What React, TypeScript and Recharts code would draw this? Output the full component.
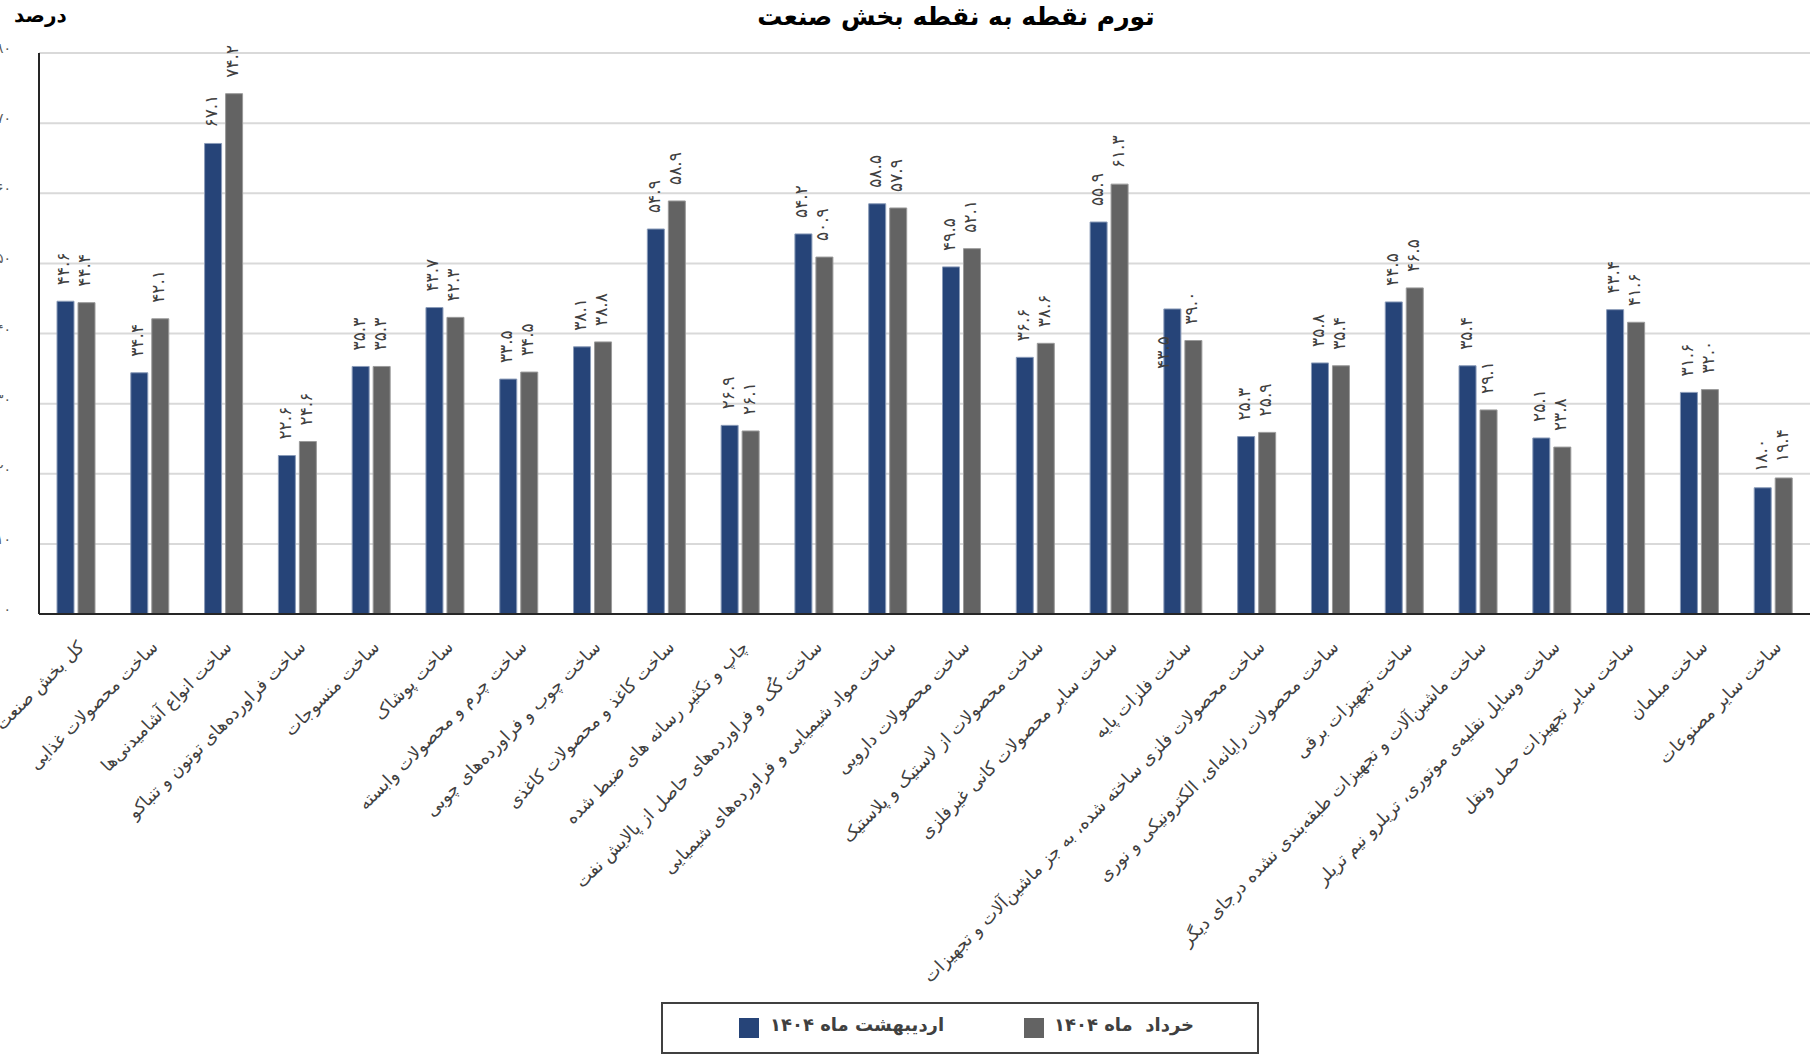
import React from 'react';
import {
  BarChart,
  Bar,
  XAxis,
  YAxis,
  CartesianGrid,
  LabelList,
  Legend,
} from 'recharts';

const categories = [
  'کل بخش صنعت',
  'ساخت محصولات غذایی',
  'ساخت انواع آشامیدنی‌ها',
  'ساخت فراورده‌های توتون و تنباکو',
  'ساخت منسوجات',
  'ساخت پوشاک',
  'ساخت چرم و محصولات وابسته',
  'ساخت چوب و فراورده‌های چوبی',
  'ساخت کاغذ و محصولات کاغذی',
  'چاپ و تکثیر رسانه های ضبط شده',
  'ساخت کُک و فراورده‌های حاصل از پالایش نفت',
  'ساخت مواد شیمیایی و فراورده‌های شیمیایی',
  'ساخت محصولات دارویی',
  'ساخت محصولات از لاستیک و پلاستیک',
  'ساخت سایر محصولات کانی غیرفلزی',
  'ساخت فلزات پایه',
  'ساخت محصولات فلزی ساخته شده، به جز ماشین‌آلات و تجهیزات',
  'ساخت محصولات رایانه‌ای، الکترونیکی و نوری',
  'ساخت تجهیزات برقی',
  'ساخت ماشین‌آلات و تجهیزات طبقه‌بندی نشده درجای دیگر',
  'ساخت وسایل نقلیه‌ی موتوری، تریلرو نیم تریلر',
  'ساخت سایر تجهیزات حمل ونقل',
  'ساخت مبلمان',
  'ساخت سایر مصنوعات',
];

// اردیبهشت ماه ۱۴۰۴
const ordibehesht = [
  44.6, 34.4, 67.1, 22.6, 35.3, 43.7, 33.5, 38.1, 54.9, 26.9, 54.2, 58.5,
  49.5, 36.6, 55.9, 43.5, 25.3, 35.8, 44.5, 35.4, 25.1, 43.4, 31.6, 18.0,
];

// خرداد ماه ۱۴۰۴
const khordad = [
  44.4, 42.1, 74.2, 24.6, 35.3, 42.3, 34.5, 38.8, 58.9, 26.1, 50.9, 57.9,
  52.1, 38.6, 61.3, 39.0, 25.9, 35.4, 46.5, 29.1, 23.8, 41.6, 32.0, 19.4,
];

const yTicks = [0, 10, 20, 30, 40, 50, 60, 70, 80];

const seriesNames = ['اردیبهشت ماه ۱۴۰۴', 'خرداد  ماه ۱۴۰۴'];

const FONT = "'DejaVu Sans', sans-serif";
const BLUE = '#264478';
const GRAY = '#636363';

const toFa = (s: string) => s.replace(/[0-9]/g, (d) => '۰۱۲۳۴۵۶۷۸۹'[Number(d)]);

const data = categories.map((name, i) => ({
  name,
  a: ordibehesht[i],
  b: khordad[i],
}));

const makeLabel = (moved?: number) => (props: any) => {
  const { x, y, width, value, index } = props;
  let cx = x + width / 2 - 2;
  let ty = y - 16;
  // this one label was dragged down onto the bar in the original
  if (moved !== undefined && index === moved) {
    cx = x + width / 2 - 9;
    ty = y + 60;
  }
  return (
    <text
      x={cx}
      y={ty}
      transform={`rotate(-90 ${cx} ${ty})`}
      textAnchor="start"
      dominantBaseline="central"
      fontSize={17}
      fontFamily={FONT}
      fill="#404040"
    >
      {toFa(Number(value).toFixed(1))}
    </text>
  );
};

const XTick = (props: any) => {
  const { x, y, payload } = props;
  return (
    <g transform={`translate(${x + 5},${y + 30})`}>
      <text
        transform="rotate(-45)"
        textAnchor="end"
        dominantBaseline="central"
        fontSize={17.5}
        fontFamily={FONT}
        fill="#404040"
      >
        {payload.value}
      </text>
    </g>
  );
};

const YTick = (props: any) => {
  const { y, payload } = props;
  return (
    <text x={11} y={y} textAnchor="end" fontSize={14} fontFamily={FONT} fill="#595959">
      {toFa(String(payload.value))}
    </text>
  );
};

const LegendBox = () => (
  <div
    style={{
      width: 598,
      height: 52,
      boxSizing: 'border-box',
      border: '2px solid #404040',
      position: 'relative',
      fontFamily: FONT,
      fontWeight: 'bold',
      fontSize: 18,
      color: '#404040',
    }}
  >
    {[
      { name: seriesNames[0], color: BLUE, sq: 76, tx: 107 },
      { name: seriesNames[1], color: GRAY, sq: 361, tx: 391 },
    ].map((it) => (
      <React.Fragment key={it.name}>
        <div
          style={{
            position: 'absolute',
            left: it.sq,
            top: 14,
            width: 20,
            height: 20,
            background: it.color,
          }}
        />
        <div
          style={{
            position: 'absolute',
            left: it.tx,
            top: 7,
            lineHeight: '28px',
            whiteSpace: 'pre',
            direction: 'rtl',
          }}
        >
          {it.name}
        </div>
      </React.Fragment>
    ))}
  </div>
);

export default function App() {
  return (
    <div
      style={{
        position: 'absolute',
        left: 0,
        top: 0,
        width: 1816,
        height: 1055,
        background: '#fff',
        overflow: 'hidden',
        fontFamily: FONT,
      }}
    >
      <div
        style={{
          position: 'absolute',
          left: 656,
          top: 0,
          width: 600,
          textAlign: 'center',
          fontWeight: 'bold',
          fontSize: 25,
          lineHeight: '34px',
          color: '#000',
          direction: 'rtl',
        }}
      >
        تورم نقطه به نقطه بخش صنعت
      </div>
      <div
        style={{
          position: 'absolute',
          left: 14,
          top: 2,
          fontWeight: 'bold',
          fontSize: 20,
          lineHeight: '26px',
          color: '#000',
          direction: 'rtl',
        }}
      >
        درصد
      </div>
      <BarChart
        width={1816}
        height={1055}
        data={data}
        margin={{ top: 53, right: 6, left: 0, bottom: 61 }}
        barSize={17}
        barGap={4}
      >
        <CartesianGrid vertical={false} stroke="#d9d9d9" strokeWidth={2} />
        <XAxis
          dataKey="name"
          interval={0}
          height={380}
          tickLine={false}
          tickSize={0}
          tickMargin={0}
          axisLine={{ stroke: '#262626', strokeWidth: 2 }}
          tick={<XTick />}
        />
        <YAxis
          width={39}
          domain={[0, 80]}
          ticks={yTicks}
          tickLine={false}
          axisLine={{ stroke: '#262626', strokeWidth: 2 }}
          tick={<YTick />}
        />
        <Legend
          layout="vertical"
          align="center"
          verticalAlign="middle"
          wrapperStyle={{ left: 661, top: 1002, width: 598, height: 52 }}
          content={() => <LegendBox />}
        />
        <Bar
          dataKey="a"
          name={seriesNames[0]}
          fill={BLUE}
          stroke="#8a9bb8"
          strokeWidth={1}
          isAnimationActive={false}
        >
          <LabelList dataKey="a" content={makeLabel(15)} />
        </Bar>
        <Bar
          dataKey="b"
          name={seriesNames[1]}
          fill={GRAY}
          stroke="#9a9a9a"
          strokeWidth={1}
          isAnimationActive={false}
        >
          <LabelList dataKey="b" content={makeLabel()} />
        </Bar>
      </BarChart>
    </div>
  );
}
